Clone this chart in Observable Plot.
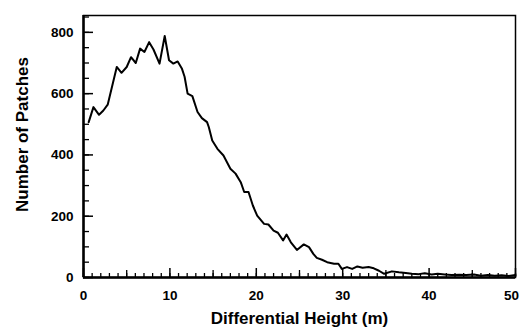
<!DOCTYPE html>
<html>
<head>
<meta charset="utf-8">
<script src="https://cdn.jsdelivr.net/npm/d3@7"></script>
<script src="https://cdn.jsdelivr.net/npm/@observablehq/plot@0.6"></script>
<style>
  html, body { margin: 0; padding: 0; background: #fff; }
</style>
</head>
<body>
<div id="chart"></div>
<script>
// Differential height (m)
const heights = [0.6, 1.15, 1.8, 2.3, 2.8, 3.85, 4.4, 5.0, 5.5, 6.05, 6.55, 7.05, 7.6, 8.1, 8.8, 9.4, 9.9, 10.4, 10.9, 11.4, 11.7, 12.05, 12.6, 13.2, 13.7, 14.3, 14.5, 14.9, 15.5, 16.2, 17.0, 17.6, 18.2, 18.6, 19.1, 19.6, 20.1, 20.9, 21.4, 22.0, 22.5, 23.1, 23.5, 24.0, 24.7, 25.5, 26.1, 26.6, 27.0, 27.6, 28.2, 29.0, 29.5, 29.9, 30.5, 31.1, 31.7, 32.3, 33.0, 33.6, 34.2, 34.8, 35.7, 36.5, 37.3, 38.0, 38.8, 39.5, 40.3, 41.0, 41.8, 42.6, 43.5, 44.3, 45.2, 46.0, 46.8, 47.6, 48.4, 49.2, 50.0];
// Number of patches
const patches = [507, 556, 531, 545, 564, 687, 668, 687, 719, 700, 747, 736, 768, 744, 698, 788, 709, 698, 705, 681, 655, 600, 592, 540, 520, 507, 491, 447, 420, 398, 355, 339, 311, 279, 279, 235, 202, 175, 173, 153, 146, 121, 140, 115, 90, 108, 99, 77, 64, 58, 50, 45, 45, 28, 34, 28, 36, 32, 34, 30, 22, 12, 20, 17, 15, 12, 11, 14, 10, 12, 10, 8, 9, 8, 10, 6, 8, 6, 7, 5, 8];

const xTickLabels = [0, 10, 20, 30, 40];
const xLastLabel = [50];
const yTickLabels = [0, 200, 400, 600, 800];
const xMajorTicks = d3.range(0, 51, 10);
const xMinorTicks = d3.range(0, 51, 1);
const xMidTicks = d3.range(5, 50, 10);
const yMinorTicks = d3.range(0, 851, 50);

const data = heights.map((h, i) => ({h, n: patches[i]}));

const W = 521, H = 332;
const mL = 83, mR = 6, mT = 15, mB = 55;
const pw = W - mL - mR, ph = H - mT - mB;

const chart = Plot.plot({
  width: W,
  height: H,
  marginLeft: mL,
  marginRight: mR,
  marginTop: mT,
  marginBottom: mB,
  style: {fontFamily: "'Liberation Sans', Arial, sans-serif", fontWeight: "bold", fontSize: "13.5px", background: "#fff", color: "#000"},
  x: {domain: [0, 50]},
  y: {domain: [0, 855]},
  marks: [
    // inward ticks on x axis
    Plot.ruleX(xMinorTicks, {insetTop: ph - 4, stroke: "#000", strokeWidth: 1.3}),
    Plot.ruleX(xMidTicks, {insetTop: ph - 7, stroke: "#000", strokeWidth: 1.3}),
    Plot.ruleX(xMajorTicks, {insetTop: ph - 9, stroke: "#000", strokeWidth: 1.5}),
    // inward ticks on y axis
    Plot.ruleY(yMinorTicks, {insetRight: pw - 6, stroke: "#000", strokeWidth: 1.3}),
    Plot.ruleY(yTickLabels, {insetRight: pw - 10, stroke: "#000", strokeWidth: 1.5}),
    Plot.frame({stroke: "#000", strokeWidth: 1.5}),
    Plot.ruleX([0], {stroke: "#000", strokeWidth: 2.5}),
    Plot.ruleY([0], {stroke: "#000", strokeWidth: 2.5}),
    Plot.axisX(xTickLabels, {tickSize: 0, tickPadding: 13, label: null, fontWeight: "bold"}),
    Plot.axisX(xLastLabel, {tickSize: 0, tickPadding: 13, label: null, fontWeight: "bold", dx: -4}),
    Plot.axisY(yTickLabels, {tickSize: 0, tickPadding: 10, label: null, fontWeight: "bold"}),
    Plot.line(data, {x: "h", y: "n", stroke: "#000", strokeWidth: 2, strokeLinejoin: "round"}),
    Plot.text(["Differential Height (m)"], {frameAnchor: "bottom", dy: 46, fontSize: 17, fontWeight: "bold", letterSpacing: 1}),
    Plot.text(["Number of Patches"], {frameAnchor: "left", textAnchor: "middle", dx: -61, dy: -12, rotate: -90, fontSize: 17, fontWeight: "bold"})
  ]
});
document.getElementById("chart").appendChild(chart);
</script>
</body>
</html>
